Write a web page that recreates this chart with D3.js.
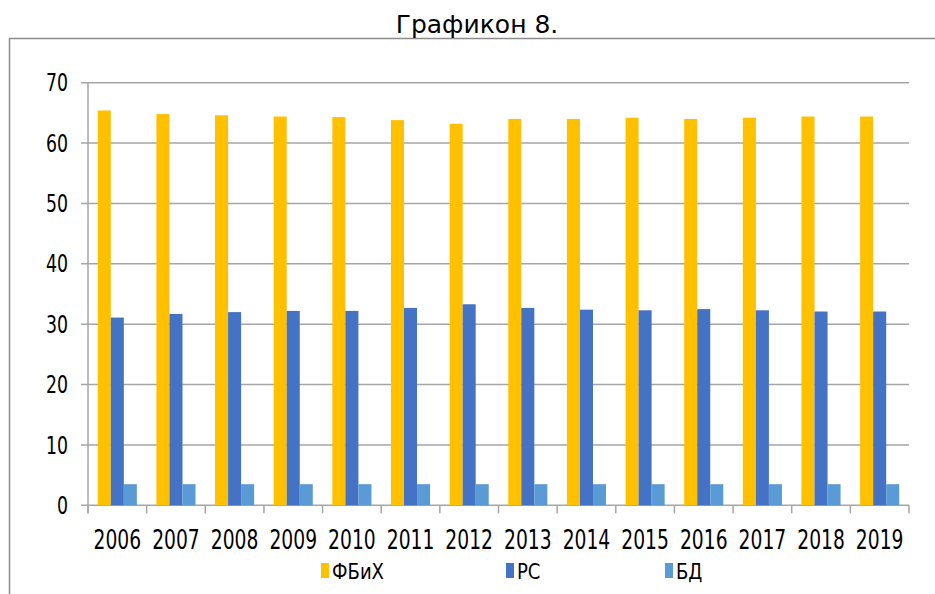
<!DOCTYPE html>
<html>
<head>
<meta charset="utf-8">
<script src="https://cdn.jsdelivr.net/npm/d3@7"></script>
<style>
  body { margin: 0; background: #fff; }
  svg text { font-family: "DejaVu Sans", sans-serif; fill: #000; }
</style>
</head>
<body>
<div id="chart"></div>
<script>
var years = ["2006","2007","2008","2009","2010","2011","2012","2013","2014","2015","2016","2017","2018","2019"];
var seriesNames = ["ФБиХ", "РС", "БД"];
var seriesColors = ["#FFC000", "#4472C4", "#5B9BD5"];
var fbihValues = [65.4, 64.8, 64.6, 64.4, 64.3, 63.8, 63.2, 64.0, 64.0, 64.2, 64.0, 64.2, 64.4, 64.4];
var rsValues   = [31.1, 31.7, 32.0, 32.2, 32.2, 32.7, 33.3, 32.7, 32.4, 32.3, 32.5, 32.3, 32.1, 32.1];
var bdValues   = [3.5, 3.5, 3.5, 3.5, 3.5, 3.5, 3.5, 3.5, 3.5, 3.5, 3.5, 3.5, 3.5, 3.5];
var yTicks = [0, 10, 20, 30, 40, 50, 60, 70];

var W = 935, H = 594;
var plot = {left: 88, right: 909, top: 82.7, bottom: 505.3};
var gridColor = "#a6a6a6";
var squeeze = 0.72; // labels in the picture are narrow

var svg = d3.select("#chart").append("svg")
  .attr("width", W)
  .attr("height", H);

// outer frame (runs off the right/bottom edge like the reference)
svg.append("rect")
  .attr("x", 9.5).attr("y", 38.5)
  .attr("width", 960).attr("height", 600)
  .attr("fill", "none")
  .attr("stroke", "#8c8c8c")
  .attr("stroke-width", 1.5);

svg.append("text")
  .attr("x", 477).attr("y", 33)
  .attr("text-anchor", "middle")
  .style("font-size", "25px")
  .text("Графикон 8.");

var x = d3.scaleBand().domain(years).range([plot.left, plot.right]).padding(0);
var x1 = d3.scaleBand().domain(seriesNames).range([0, x.bandwidth()]).paddingInner(0).paddingOuter(0.75);
var y = d3.scaleLinear().domain([0, 70]).range([plot.bottom, plot.top]);

// gridlines + y ticks
svg.append("g").selectAll("line").data(yTicks).enter().append("line")
  .attr("x1", plot.left - 7).attr("x2", plot.right)
  .attr("y1", function(d){ return y(d); })
  .attr("y2", function(d){ return y(d); })
  .attr("stroke", gridColor)
  .attr("stroke-width", 1.5);

svg.append("g").selectAll("text").data(yTicks).enter().append("text")
  .attr("transform", function(d){ return "translate(68," + y(d) + ") scale(" + squeeze + ",1)"; })
  .attr("dy", "0.36em")
  .attr("text-anchor", "end")
  .style("font-size", "24px")
  .text(function(d){ return d; });

// y axis line
svg.append("line")
  .attr("x1", plot.left).attr("x2", plot.left)
  .attr("y1", plot.top).attr("y2", plot.bottom + 8)
  .attr("stroke", gridColor).attr("stroke-width", 1.5);

// x ticks at category boundaries
var bounds = years.map(function(d){ return x(d); }).concat([plot.right]);
svg.append("g").selectAll("line").data(bounds).enter().append("line")
  .attr("x1", function(d){ return d; })
  .attr("x2", function(d){ return d; })
  .attr("y1", plot.bottom).attr("y2", plot.bottom + 8)
  .attr("stroke", gridColor).attr("stroke-width", 1.5);

// bars
var allSeries = [fbihValues, rsValues, bdValues];
allSeries.forEach(function(vals, si){
  svg.append("g").selectAll("rect").data(vals).enter().append("rect")
    .attr("x", function(d, i){ return x(years[i]) + x1(seriesNames[si]); })
    .attr("y", function(d){ return y(d); })
    .attr("width", x1.bandwidth())
    .attr("height", function(d){ return y(0) - y(d); })
    .attr("fill", seriesColors[si]);
});

// x labels
svg.append("g").selectAll("text").data(years).enter().append("text")
  .attr("transform", function(d){ return "translate(" + (x(d) + x.bandwidth() / 2) + ",549) scale(" + squeeze + ",1)"; })
  .attr("text-anchor", "middle")
  .style("font-size", "26px")
  .text(function(d){ return d; });

// legend
var legendX = [321, 506, 665];
var lg = svg.append("g").selectAll("g").data(seriesNames).enter().append("g")
  .attr("transform", function(d, i){ return "translate(" + legendX[i] + ",563)"; });
lg.append("rect")
  .attr("width", 8).attr("height", 15)
  .attr("fill", function(d, i){ return seriesColors[i]; });
lg.append("text")
  .attr("transform", "translate(11,15.5) scale(0.82,1)")
  .style("font-size", "22px")
  .text(function(d){ return d; });
</script>
</body>
</html>
